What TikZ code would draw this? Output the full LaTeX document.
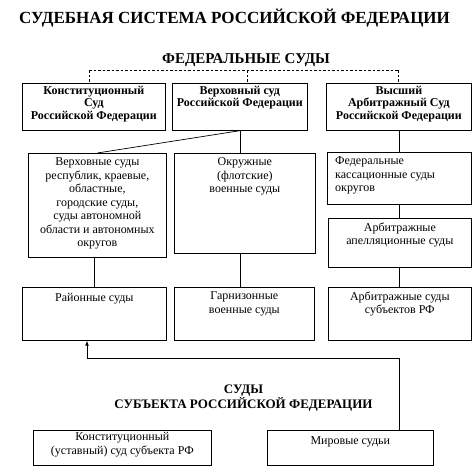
\documentclass[tikz,border=0pt]{standalone}
\usepackage{fontspec}
\setmainfont{Liberation Serif}
\usetikzlibrary{positioning}
\begin{document}
\begin{tikzpicture}[
			x=1pt, y=-1pt,
			cell/.style={
				rectangle,
				draw,
				line width=0.7pt,
				inner sep=0pt,
				anchor=north west,
			},
			txt/.style={
				align=center,
				inner sep=0pt,
				anchor=north,
				font=\fontsize{12}{13.5}\selectfont,
				execute at begin node=\strut,
			},
			head/.style={
				align=center,
				inner sep=0pt,
				anchor=base,
				font=\bfseries,
			},
			ArrowC1/.style={
				line width=0.7pt,
			},
			]
				\useasboundingbox (0,0) rectangle (474,474);
				% titles
				\node[head, font=\fontsize{17}{18}\bfseries] (tit) at (234.5,23.5) {СУДЕБНАЯ СИСТЕМА РОССИЙСКОЙ ФЕДЕРАЦИИ};
				\node[head, font=\fontsize{15}{17}\bfseries] (fed) at (246,63) {ФЕДЕРАЛЬНЫЕ СУДЫ};
				
				% federal courts
				\node[cell, minimum width=143, minimum height=47] (ks) at (22,83) {};
				\node[cell, minimum width=135, minimum height=47] (vs) at (172,83) {};
				\node[cell, minimum width=145, minimum height=47] (vas) at (326,83) {};
				\node[txt, font=\fontsize{12}{12.5}\bfseries] (ks-t) at ([yshift=-3pt]ks.north) {Конституционный\\Суд\\Российской Федерации};
				\node[txt, font=\fontsize{12}{12.5}\bfseries] (vs-t) at ([yshift=-3pt]vs.north) {Верховный суд\\Российской Федерации};
				\node[txt, font=\fontsize{12}{12.5}\bfseries] (vas-t) at ([yshift=-3pt]vas.north) {Высший\\Арбитражный Суд\\Российской Федерации};
				
				% general courts
				\node[cell, minimum width=138, minimum height=104] (vsr) at (28,153) {};
				\node[cell, minimum width=141, minimum height=100] (okr) at (174,153) {};
				\node[txt] (vsr-t) at ([yshift=-4.5pt]vsr.north) {Верховные суды\\республик, краевые,\\областные,\\городские суды,\\суды автономной\\области и автономных\\округов};
				\node[txt] (okr-t) at ([yshift=-4.5pt]okr.north) {Окружные\\(флотские)\\военные суды};
				
				% arbitration courts
				\node[cell, minimum width=144, minimum height=52] (kas) at (327,152) {};
				\node[cell, minimum width=143, minimum height=49] (apl) at (328,218) {};
				\node[txt, align=left, anchor=north west] (kas-t) at ([xshift=8pt,yshift=-4.5pt]kas.north west) {Федеральные\\кассационные суды\\округов};
				\node[txt] (apl-t) at ([yshift=-4.5pt]apl.north) {Арбитражные\\апелляционные суды};
				
				% lower courts
				\node[cell, minimum width=144, minimum height=53] (rai) at (22,287) {};
				\node[cell, minimum width=140, minimum height=53] (garn) at (174,287) {};
				\node[cell, minimum width=143, minimum height=53] (asub) at (328,287) {};
				\node[txt] (rai-t) at ([yshift=-4.5pt]rai.north) {Районные суды};
				\node[txt] (garn-t) at ([yshift=-4.5pt]garn.north) {Гарнизонные\\военные суды};
				\node[txt] (asub-t) at ([yshift=-4.5pt]asub.north) {Арбитражные суды\\субъектов РФ};
				
				% courts of the subject
				\node[head, font=\fontsize{13}{15}\bfseries] (sub) at (243.5,408) {СУДЫ\\СУБЪЕКТА РОССИЙСКОЙ ФЕДЕРАЦИИ};
				\node[cell, minimum width=178, minimum height=35] (ksub) at (33,430) {};
				\node[cell, minimum width=166, minimum height=35] (mir) at (267,430) {};
				\node[txt] (ksub-t) at ([yshift=-2.5pt]ksub.north) {Конституционный\\(уставный) суд субъекта РФ};
				\node[txt] (mir-t) at ([yshift=-4.5pt]mir.north) {Мировые судьи};
				
				% dashed links
				\coordinate (dl) at (89,70);
				\coordinate (dm) at (247,70);
				\coordinate (dr) at (398,70);
				\draw[ArrowC1, dashed, dash pattern=on 2.5pt off 2pt] (dl) -- (dr);
				\draw[ArrowC1, dashed, dash pattern=on 2.5pt off 2pt] (dl) -- (dl |- ks.north);
				\draw[ArrowC1, dashed, dash pattern=on 2.5pt off 2pt] (dm) -- (dm |- vs.north);
				\draw[ArrowC1, dashed, dash pattern=on 2.5pt off 2pt] (dr) -- (dr |- vas.north);
				
				\draw[ArrowC1] (vs.south) -- (vsr.north);
				\draw[ArrowC1] (vs.south) -- (vs.south |- okr.north);
				\draw[ArrowC1] (rai.north |- vsr.south) -- (rai.north);
				\draw[ArrowC1] (vs.south |- okr.south) -- (vs.south |- garn.north);
				
				\draw[ArrowC1] (vas.south) -- (vas.south |- kas.north);
				\draw[ArrowC1] (vas.south |- kas.south) -- (vas.south |- apl.north);
				\draw[ArrowC1] (vas.south |- apl.south) -- (vas.south |- asub.north);
				
				\coordinate (ar) at (87,358);
				\draw[-latex,ArrowC1] (vas.south |- mir.north) |- (ar) -- (ar |- rai.south);
			\end{tikzpicture}
\end{document}
